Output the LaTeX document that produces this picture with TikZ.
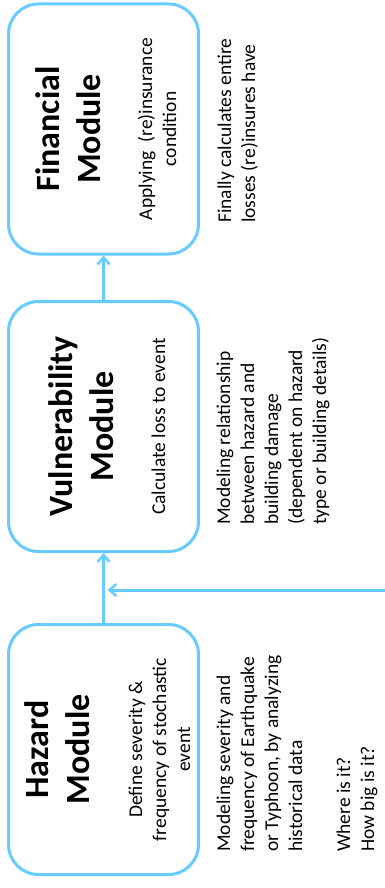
\documentclass[tikz,border=0pt]{standalone}
\usepackage{fontspec}
\setmainfont{Carlito}
\usetikzlibrary{arrows.meta}
\definecolor{boxblue}{RGB}{102,204,255}
\tikzset{
  modbox/.style={draw=boxblue, line width=3pt, rounded corners=30pt,
    minimum width=190pt, minimum height=250pt, inner sep=0pt},
  titletext/.style={rotate=90, anchor=base, align=center, inner sep=0pt,
    font=\fontsize{34}{41}\selectfont\bfseries},
  subtext/.style={rotate=90, anchor=base, align=center, inner sep=0pt,
    font=\fontsize{19.5}{24}\selectfont},
  desctext/.style={rotate=90, anchor=base west, align=left, inner sep=0pt,
    font=\fontsize{19.5}{24}\selectfont},
  arr/.style={draw=boxblue, line width=3pt,
    -{Straight Barb[length=7pt,width=12pt,line width=2.5pt]}}
}
\begin{document}
\begin{tikzpicture}[x=1pt,y=-1pt]
\useasboundingbox (0,0) rectangle (385,888);
% boxes
\node[modbox] (fin) at (103.5,129) {};
\node[modbox] (vul) at (103.5,426.5) {};
\node[modbox] (haz) at (103.5,749.5) {};
% titles (anchor = baseline of last line)
\node[titletext] (fint) at (100,129) {Financial\\Module};
\node[titletext] (vult) at (113,426.5) {Vulnerability\\Module};
\node[titletext] (hazt) at (89,749.5) {Hazard\\Module};
% subtitles
\node[subtext] (fins) at (176,129) {Applying\ \ (re)insurance\\condition};
\node[subtext] (vuls) at (165,426.5) {Calculate loss to event};
\node[subtext] (hazs) at (190,749.5) {Define severity \&\\frequency of stochastic\\event};
% descriptions
\node[desctext] (find) at (255,223) {Finally calculates entire\\losses (re)insures have};
\node[desctext] (vuld) at (326,525) {Modeling relationship\\between hazard and\\building damage\\(dependent on hazard\\type or building details)};
\node[desctext] (hazd) at (374,852) {Modeling severity and\\frequency of Earthquake\\or Typhoon, by analyzing\\historical data\\[24pt]Where is it?\\How big is it?};
% connectors
\draw[arr] (vul.north) -- (fin.south);
\draw[arr] (haz.north) -- (vul.south);
\coordinate (feed) at (388,590);
\draw[arr, shorten >=4pt] (feed) -- (feed -| vul.south);
\end{tikzpicture}
\end{document}
